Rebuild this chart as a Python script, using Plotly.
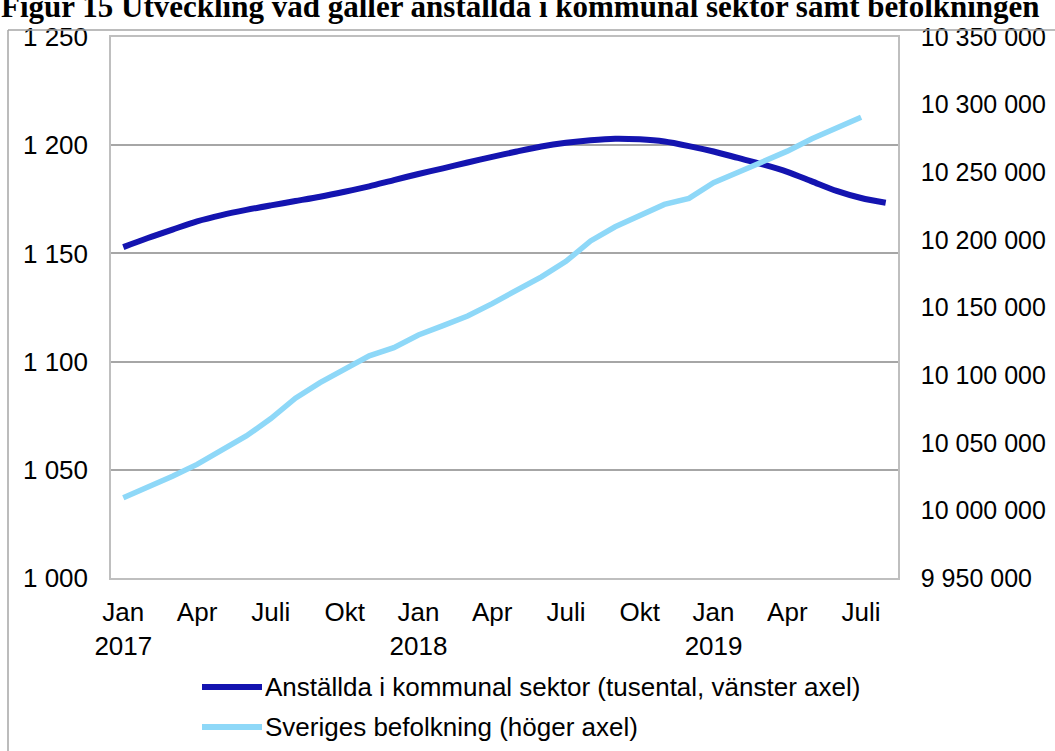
import plotly.graph_objects as go

months = ["Jan 2017", "Feb 2017", "Mar 2017", "Apr 2017", "Maj 2017", "Jun 2017", "Jul 2017", "Aug 2017",
          "Sep 2017", "Okt 2017", "Nov 2017", "Dec 2017", "Jan 2018", "Feb 2018", "Mar 2018", "Apr 2018",
          "Maj 2018", "Jun 2018", "Jul 2018", "Aug 2018", "Sep 2018", "Okt 2018", "Nov 2018", "Dec 2018",
          "Jan 2019", "Feb 2019", "Mar 2019", "Apr 2019", "Maj 2019", "Jun 2019", "Jul 2019", "Aug 2019"]

anstallda = [1152.9, 1157.1, 1161.0, 1164.8, 1167.7, 1170.1, 1172.2, 1174.2, 1176.2, 1178.5, 1181.0,
             1183.9, 1186.7, 1189.3, 1192.0, 1194.6, 1197.1, 1199.4, 1201.1, 1202.3, 1203.0, 1202.7,
             1201.7, 1199.6, 1197.1, 1194.1, 1191.1, 1187.7, 1183.3, 1178.9, 1175.6, 1173.4]

befolkning = [10009300, 10017100, 10025300, 10034000, 10044400, 10055000, 10067900, 10083000,
              10094400, 10104600, 10114300, 10120300, 10129700, 10136600, 10143700, 10152900,
              10163100, 10172700, 10184100, 10199200, 10209700, 10218000, 10226200, 10230700,
              10242200, 10250000, 10257500, 10265600, 10274800, 10282800, 10290700]

tick_pos = [0, 3, 6, 9, 12, 15, 18, 21, 24, 27, 30]
tick_text = ["Jan<br>2017", "Apr", "Juli", "Okt", "Jan<br>2018", "Apr", "Juli", "Okt", "Jan<br>2019", "Apr", "Juli"]

name_left = "Anställda i kommunal sektor (tusental, vänster axel)"
name_right = "Sveriges befolkning (höger axel)"
title_text = "Figur 15 Utveckling vad gäller anställda i kommunal sektor samt befolkningen"

DARK = "#1414B0"
LIGHT = "#8ED8F8"
FONT = "Arial, Liberation Sans, sans-serif"
FS = 26

W, H = 1055, 751
ML, MR, MT, MB = 111, 157, 37, 173
PW, PH = W - ML - MR, H - MT - MB


def px(x):
    return (x - ML) / PW


def py(y):
    return (H - MB - y) / PH


fig = go.Figure()
fig.add_trace(go.Scatter(x=list(range(len(anstallda))), y=anstallda, name=name_left, mode="lines",
                         line=dict(color=DARK, width=6, shape="spline", smoothing=0.8),
                         showlegend=False, hoverinfo="skip"))
fig.add_trace(go.Scatter(x=list(range(len(befolkning))), y=befolkning, name=name_right, mode="lines",
                         line=dict(color=LIGHT, width=5.5), yaxis="y2",
                         showlegend=False, hoverinfo="skip"))

fig.update_layout(
    width=W, height=H,
    margin=dict(l=ML, r=MR, t=MT, b=MB),
    paper_bgcolor="white", plot_bgcolor="white",
    separators=", ",
    font=dict(family=FONT, size=FS, color="black"),
    xaxis=dict(range=[-0.5, len(months) - 0.5], tickmode="array", tickvals=tick_pos, ticktext=tick_text,
               showgrid=False, zeroline=False, showline=True, linecolor="#BFBFBF", linewidth=1.5,
               mirror=True, ticks="outside", ticklen=10, tickcolor="rgba(0,0,0,0)",
               tickfont=dict(family=FONT, size=FS), automargin=False),
    yaxis=dict(range=[1000, 1250], dtick=50, tick0=1000, tickformat=",d",
               showgrid=True, gridcolor="#A6A6A6", gridwidth=2, zeroline=False,
               showline=True, linecolor="#BFBFBF", linewidth=1.5,
               ticks="outside", ticklen=16, tickcolor="rgba(0,0,0,0)",
               tickfont=dict(family=FONT, size=FS), automargin=False),
    yaxis2=dict(range=[9950000, 10350000], dtick=50000, tick0=9950000, tickformat=",d",
                overlaying="y", side="right", showgrid=False, zeroline=False,
                showline=True, linecolor="#BFBFBF", linewidth=1.5,
                ticks="outside", ticklen=16, tickcolor="rgba(0,0,0,0)",
                tickfont=dict(family=FONT, size=25), automargin=False),
)

# Chart frame (partly outside the page, as in the reference)
frame = dict(type="line", xref="paper", yref="paper", line=dict(color="#A6A6A6", width=1.5))
fig.add_shape(**frame, x0=px(8), y0=py(30), x1=px(1070), y1=py(30))
fig.add_shape(**frame, x0=px(8), y0=py(30), x1=px(8), y1=py(770))

# Manual legend
for yy, col, txt in [(687, DARK, name_left), (727, LIGHT, name_right)]:
    fig.add_shape(type="line", xref="paper", yref="paper", x0=px(202), x1=px(262), y0=py(yy), y1=py(yy),
                  line=dict(color=col, width=6))
    fig.add_annotation(xref="paper", yref="paper", x=px(263), y=py(yy), text=txt, showarrow=False,
                       xanchor="left", yanchor="middle", font=dict(family=FONT, size=FS, color="black"))

# Title (cut off at the top like the reference)
fig.add_annotation(xref="paper", yref="paper", x=px(-1), y=py(6.5), text="<b>" + title_text + "</b>",
                   showarrow=False, xanchor="left", yanchor="middle",
                   font=dict(family="Times New Roman, Liberation Serif, serif", size=31, color="black"))

fig.write_html("out.html", config={"displayModeBar": False},
               post_script="document.body.style.margin='0';document.body.style.overflow='hidden';")
